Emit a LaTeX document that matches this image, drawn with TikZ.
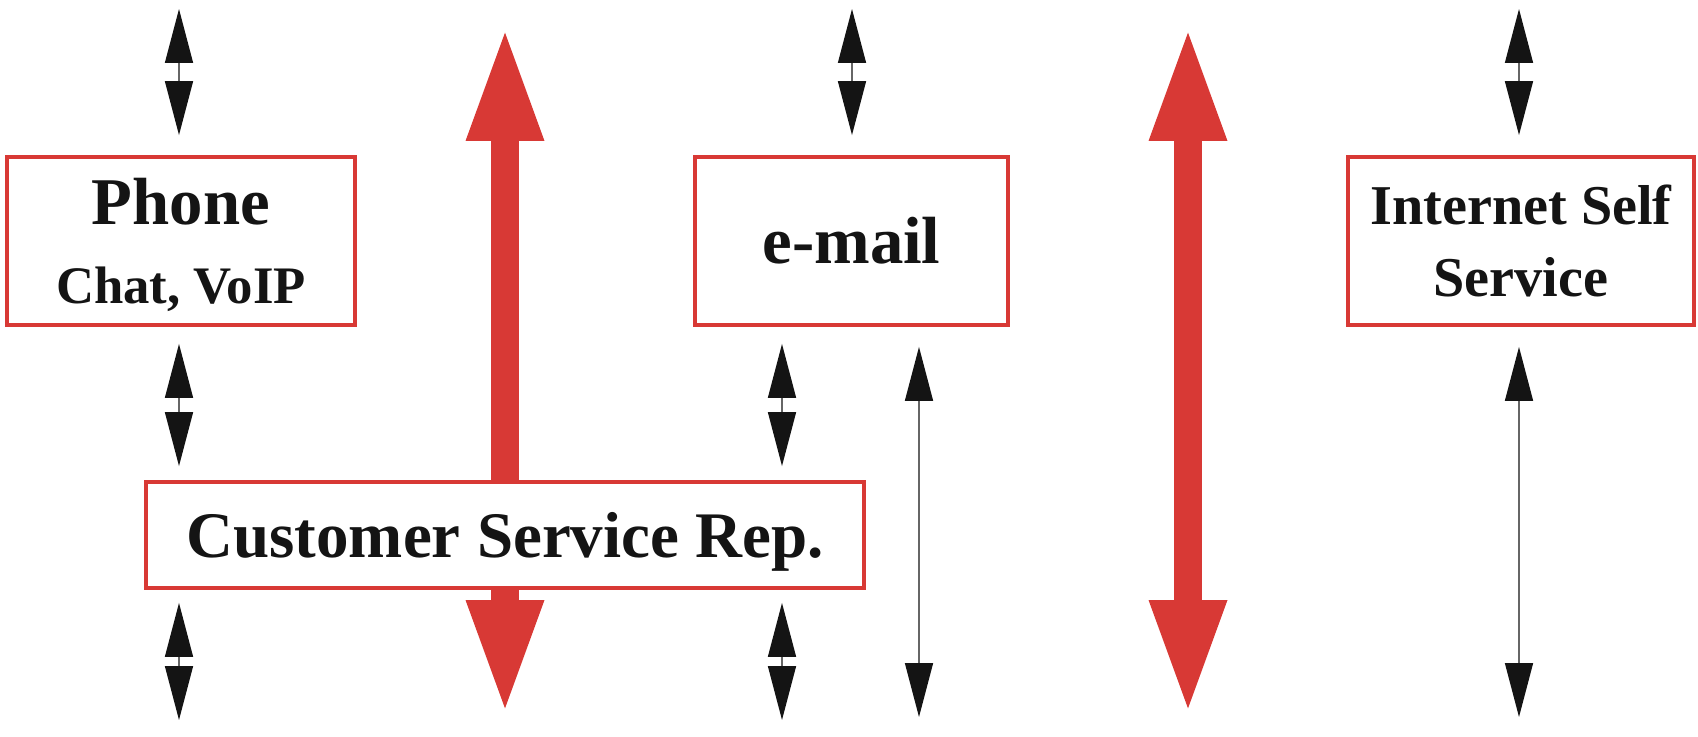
\documentclass[tikz,border=0pt]{standalone}
\usepackage{fontspec}
\setmainfont{Liberation Serif}
\usetikzlibrary{arrows.meta}
\definecolor{boxred}{RGB}{216,57,53}
\tikzset{
  chan/.style={draw=boxred, line width=2.2pt, fill=white, inner sep=0pt, align=center, text=black!92},
  link/.style={line width=0.9pt, draw=black!60, >={Triangle[width=0.56cm,length=1.08cm,color=black!92]}, <->},
  biglink/.style={line width=0.56cm, draw=boxred, >={Triangle[width=1.38cm,length=2.34cm]}, <->}
}
\begin{document}
\begin{tikzpicture}[x=0.02cm, y=-0.02cm]
  \useasboundingbox (0,0) rectangle (1698,737);
  % flechas rojas, por debajo de las cajas
  \coordinate (redAtop) at (505,24);
  \coordinate (redAbot) at (505,717);
  \coordinate (redBtop) at (1188,24);
  \coordinate (redBbot) at (1188,717);
  \draw[biglink] (redAtop) -- (redAbot);
  \draw[biglink] (redBtop) -- (redBbot);

  \node[chan, minimum width=6.96cm, minimum height=3.36cm, text depth=0pt,
        font=\fontsize{38}{45}\selectfont\bfseries] (phone) at (181,241)
    {Phone\\{\fontsize{30}{45}\selectfont Chat, VoIP}};
  \node[chan, minimum width=6.26cm, minimum height=3.36cm,
        font=\fontsize{38}{45}\selectfont\bfseries] (email) at (851.5,241) {e-mail};
  \node[chan, minimum width=6.92cm, minimum height=3.36cm,
        font=\fontsize{32}{41.4}\selectfont\bfseries] (inet) at (1521,241) {Internet Self\\Service};
  \node[chan, minimum width=14.36cm, minimum height=2.12cm, text depth=0pt,
        font=\fontsize{37}{44}\selectfont\bfseries] (csr) at (505,535) {Customer Service Rep.};

  \coordinate (phonetop) at (179,9);
  \coordinate (phonebot) at (179,720);
  \coordinate (emailtop) at (852,9);
  \coordinate (emailbot) at (782,720);
  \coordinate (longbot) at (919,717);
  \coordinate (inettop) at (1519,9);
  \coordinate (inetbot) at (1519,717);

  \draw[link, shorten >=0.4cm] (phonetop) -- (phonetop |- phone.north);
  \draw[link, shorten <=0.34cm, shorten >=0.28cm] (phonetop |- phone.south) -- (phonetop |- csr.north);
  \draw[link, shorten <=0.26cm] (phonebot |- csr.south) -- (phonebot);

  \draw[link, shorten >=0.4cm] (emailtop) -- (emailtop |- email.north);
  \draw[link, shorten <=0.34cm, shorten >=0.28cm] (emailbot |- email.south) -- (emailbot |- csr.north);
  \draw[link, shorten <=0.26cm] (emailbot |- csr.south) -- (emailbot);
  \draw[link, shorten <=0.4cm] (longbot |- email.south) -- (longbot);

  \draw[link, shorten >=0.4cm] (inettop) -- (inettop |- inet.north);
  \draw[link, shorten <=0.4cm] (inetbot |- inet.south) -- (inetbot);
\end{tikzpicture}
\end{document}
